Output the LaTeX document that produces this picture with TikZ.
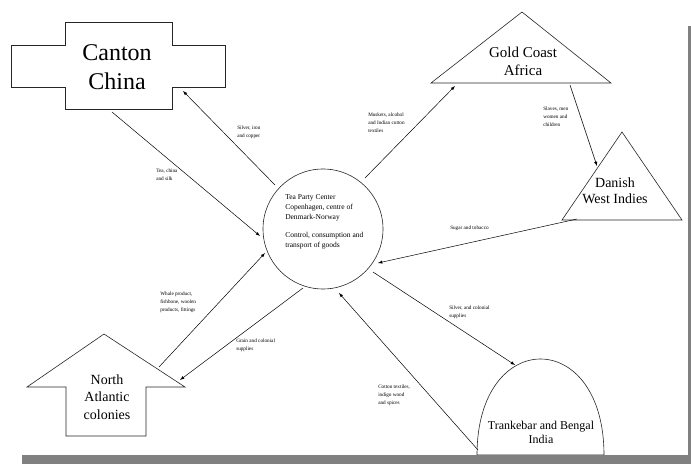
\documentclass[tikz,border=0pt]{standalone}
\usepackage{fontspec}
\setmainfont{Liberation Serif}
\tikzset{
  region/.style={draw=black!85, line width=0.6pt},
  place/.style={align=center, inner sep=0},
  goods/.style={align=left, anchor=north west, inner sep=0,
    font=\fontsize{5.2}{7.8}\selectfont},
}
\begin{document}
\begin{tikzpicture}[>=latex, x=1pt, y=-1pt, line width=0.5pt]
\useasboundingbox (0,0) rectangle (691,465);
{\centering
% end points of the trade routes
\coordinate (teaFrom)     at (112, 112);
\coordinate (teaTo)       at (260, 236);
\coordinate (silverFrom)  at (275, 185);
\coordinate (silverTo)    at (183, 91);
\coordinate (musketFrom)  at (365, 178);
\coordinate (musketTo)    at (455, 86);
\coordinate (slaveFrom)   at (570, 85);
\coordinate (slaveTo)     at (597, 166);
\coordinate (sugarFrom)   at (577, 219);
\coordinate (sugarTo)     at (378, 263);
\coordinate (indiaFrom)   at (373, 272);
\coordinate (indiaTo)     at (515, 365);
\coordinate (cottonFrom)  at (478, 450);
\coordinate (cottonTo)    at (339, 293);
\coordinate (whaleFrom)   at (159, 367);
\coordinate (whaleTo)     at (265, 253);
\coordinate (grainFrom)   at (303, 288);
\coordinate (grainTo)     at (180, 380);

% regions
\draw[region] (65,22) -- (172,22) -- (172,45) -- (225,45) -- (225,87) -- (172,87)
  -- (172,109) -- (65,109) -- (65,87) -- (11,87) -- (11,45) -- (65,45) -- cycle;
\draw[region] (522,12) -- (611,83) -- (431,83) -- cycle;
\draw[region] (622,132) -- (682,220) -- (562,220) -- cycle;
\draw[region] (104,334) -- (185,387) -- (146,387) -- (146,436) -- (66,436)
  -- (66,387) -- (27,387) -- cycle;
\draw[region] (477,455) .. controls (477,327) and (604,327) .. (604,455) -- cycle;
\node[region, circle, minimum size=120pt, inner sep=0] (hub) at (323,229) {};

\node[place, font=\fontsize{24}{29}\selectfont] (canton) at (117,67) {Canton\\China};
\node[place, font=\fontsize{15}{18}\selectfont] (gold) at (523,61) {Gold Coast\\Africa};
\node[place, font=\fontsize{14}{16}\selectfont] (danish) at (615,191) {Danish\\West Indies};
\node[place, font=\fontsize{14}{17.5}\selectfont] (north) at (107,397) {North\\Atlantic\\colonies};
\node[place, font=\fontsize{12}{14}\selectfont] (india) at (541,432) {Trankebar and Bengal\\India};
\node[goods, font=\fontsize{7.5}{10}\selectfont] (hubText) at (285,194)
  {Tea Party Center\\Copenhagen, centre of\\Denmark-Norway\\[8pt]Control, consumption and\\transport of goods};

% goods
\node[goods] (teaLbl)    at (156,169) {Tea, china\\and silk};
\node[goods] (silverLbl) at (237,126) {Silver, iron\\and copper};
\node[goods] (musketLbl) at (368,113) {Muskets, alcohol\\and Indian cotton\\textiles};
\node[goods] (slaveLbl)  at (543,107) {Slaves, men\\women and\\children};
\node[goods] (sugarLbl)  at (450,226) {Sugar and tobacco};
\node[goods] (indiaLbl)  at (449,306) {Silver, and colonial\\supplies};
\node[goods] (cottonLbl) at (378,385) {Cotton textiles,\\indigo wood\\and spices};
\node[goods] (whaleLbl)  at (160,292) {Whale product,\\fishbone, woolen\\products, fittings};
\node[goods] (grainLbl)  at (236,339) {Grain and colonial\\supplies};

\path[->] (teaFrom)    edge (teaTo);
\path[->] (silverFrom) edge (silverTo);
\path[->] (musketFrom) edge (musketTo);
\path[->] (slaveFrom)  edge (slaveTo);
\path[->] (sugarFrom)  edge (sugarTo);
\path[->] (indiaFrom)  edge (indiaTo);
\path[->] (cottonFrom) edge (cottonTo);
\path[->] (whaleFrom)  edge (whaleTo);
\path[->] (grainFrom)  edge (grainTo);

% frame shadow
\fill[black!50] (22,455) rectangle (691,464);
\fill[black!50] (688,26) rectangle (691,464);
}
\end{tikzpicture}
\end{document}
